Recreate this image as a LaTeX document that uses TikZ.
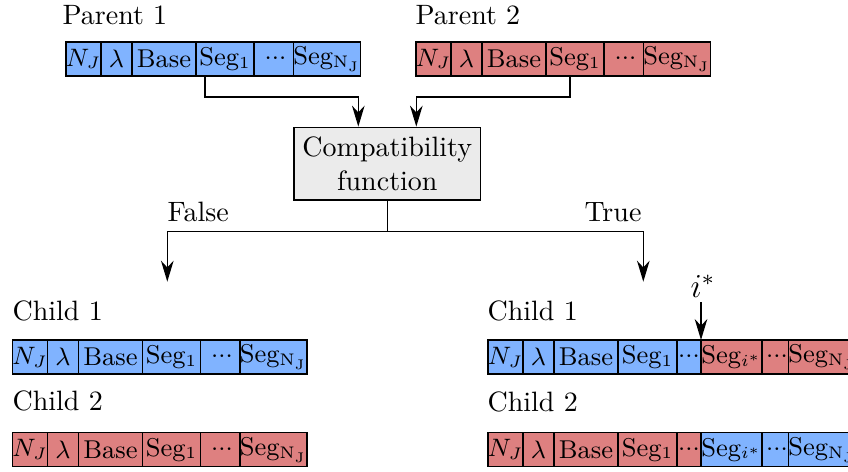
\documentclass[tikz,border=0pt]{standalone}
\usetikzlibrary{arrows.meta,calc}
\definecolor{cblue}{RGB}{128,179,255}
\definecolor{cred}{RGB}{222,128,128}
\definecolor{cgray}{RGB}{235,235,235}
\def\u{0.3571pt}
\newcommand{\mydots}{${\cdot}{\cdot}{\cdot}$}
\begin{document}
\begin{tikzpicture}[x=0.3571pt,y=-0.3571pt,
  cell/.style={draw, line width=0.5pt, minimum height=34*\u, inner sep=0pt, outer sep=0pt, font=\fontsize{9.2}{11}\selectfont},
  bc/.style={cell, fill=cblue},
  rc/.style={cell, fill=cred},
  lab/.style={anchor=base west, inner sep=0pt, font=\normalsize},
  arr/.style={line width=0.5pt, -{Stealth[length=7.5pt,width=4.5pt,inset=2.4pt]}},
  ln/.style={line width=0.5pt},
  decide/.style={draw, line width=0.5pt, fill=cgray, minimum width=186.7*\u, minimum height=72.7*\u, align=center, inner sep=0pt, font=\normalsize}
]
\useasboundingbox (0,0) rectangle (848,471);

% labels
\node[lab] (lp1) at (62,24) {Parent 1};
\node[lab] (lp2) at (415,24) {Parent 2};
\node[lab] (lc1) at (12,320) {Child 1};
\node[lab] (lc2) at (12,410.5) {Child 2};
\node[lab] (rc1) at (487,320) {Child 1};
\node[lab] (rc2) at (487,411) {Child 2};

% Parent 1
\node[bc, minimum width=35*\u] (p1a) at (83.5,58.8) {$N_J$};
\node[bc, minimum width=31*\u] (p1b) at (116.5,58.8) {$\lambda$};
\node[bc, minimum width=64*\u] (p1c) at (164,58.8) {Base};
\node[bc, minimum width=58*\u] (p1d) at (225,58.8) {Seg$_1$};
\node[bc, minimum width=43*\u] (p1e) at (275.5,58.8) {\mydots};
\node[bc, minimum width=60*\u] (p1f) at (327,58.8) {Seg$_{\mathrm{N_J}}$};

% Parent 2
\node[rc, minimum width=35*\u] (p2a) at (433.5,58.8) {$N_J$};
\node[rc, minimum width=31*\u] (p2b) at (466.5,58.8) {$\lambda$};
\node[rc, minimum width=64*\u] (p2c) at (514,58.8) {Base};
\node[rc, minimum width=58*\u] (p2d) at (575,58.8) {Seg$_1$};
\node[rc, minimum width=43*\u] (p2e) at (625.5,58.8) {\mydots};
\node[rc, minimum width=60*\u] (p2f) at (677,58.8) {Seg$_{\mathrm{N_J}}$};

% Compatibility function
\node[decide] (cf) at (387.3,163.7) {Compatibility\\function};

% Left child 1
\node[bc, minimum width=35*\u] (l1a) at (30,357) {$N_J$};
\node[bc, minimum width=31*\u] (l1b) at (63,357) {$\lambda$};
\node[bc, minimum width=64*\u] (l1c) at (110.5,357) {Base};
\node[bc, minimum width=58*\u] (l1d) at (171.5,357) {Seg$_1$};
\node[bc, minimum width=43*\u] (l1e) at (222,357) {\mydots};
\node[bc, minimum width=60*\u] (l1f) at (273.5,357) {Seg$_{\mathrm{N_J}}$};

% Left child 2
\node[rc, minimum width=35*\u] (l2a) at (30,449.7) {$N_J$};
\node[rc, minimum width=31*\u] (l2b) at (63,449.7) {$\lambda$};
\node[rc, minimum width=64*\u] (l2c) at (110.5,449.7) {Base};
\node[rc, minimum width=58*\u] (l2d) at (171.5,449.7) {Seg$_1$};
\node[rc, minimum width=43*\u] (l2e) at (222,449.7) {\mydots};
\node[rc, minimum width=60*\u] (l2f) at (273.5,449.7) {Seg$_{\mathrm{N_J}}$};

% Right child 1
\node[bc, minimum width=35*\u] (r1a) at (505.5,357) {$N_J$};
\node[bc, minimum width=31*\u] (r1b) at (538.5,357) {$\lambda$};
\node[bc, minimum width=64*\u] (r1c) at (586,357) {Base};
\node[bc, minimum width=59*\u] (r1d) at (647.5,357) {Seg$_1$};
\node[bc, minimum width=24*\u] (r1e) at (689,357) {\mydots};
\node[rc, minimum width=61*\u] (r1f) at (731.5,357) {Seg$_{i^*}$};
\node[rc, minimum width=30*\u] (r1g) at (777,357) {\mydots};
\node[rc, minimum width=60*\u] (r1h) at (822,357) {Seg$_{\mathrm{N_J}}$};

% Right child 2
\node[rc, minimum width=35*\u] (r2a) at (505.5,449.7) {$N_J$};
\node[rc, minimum width=31*\u] (r2b) at (538.5,449.7) {$\lambda$};
\node[rc, minimum width=64*\u] (r2c) at (586,449.7) {Base};
\node[rc, minimum width=59*\u] (r2d) at (647.5,449.7) {Seg$_1$};
\node[rc, minimum width=24*\u] (r2e) at (689,449.7) {\mydots};
\node[bc, minimum width=61*\u] (r2f) at (731.5,449.7) {Seg$_{i^*}$};
\node[bc, minimum width=30*\u] (r2g) at (777,449.7) {\mydots};
\node[bc, minimum width=60*\u] (r2h) at (822,449.7) {Seg$_{\mathrm{N_J}}$};

% i* marker
\node[inner sep=1.5pt, font=\large] (istar) at (703,286) {$i^*$};
\draw[arr] (istar.south -| r1f.north west) -- (r1f.north west);

% connectors from parents
\draw[arr] ($(p1d.south west)+(9,0)$) -- ++(0,21.3) -| ($(cf.north)+(-29,0)$);
\draw[arr] ($(p2d.south west)+(24,0)$) -- ++(0,21.3) -| ($(cf.north)+(29,0)$);

% branches
\coordinate (split) at ($(cf.south)+(0,30.7)$);
\coordinate (fend) at (167.3,281.7);
\coordinate (tend) at (643.3,281.7);
\draw[ln] (cf.south) -- (split);
\draw[arr] (split) -| (fend);
\draw[arr] (split) -| (tend);
\node[lab] (lfalse) at (167,221.7) {False};
\node[anchor=base east, inner sep=0pt, font=\normalsize] (ltrue) at (642,221.7) {True};
\end{tikzpicture}
\end{document}
